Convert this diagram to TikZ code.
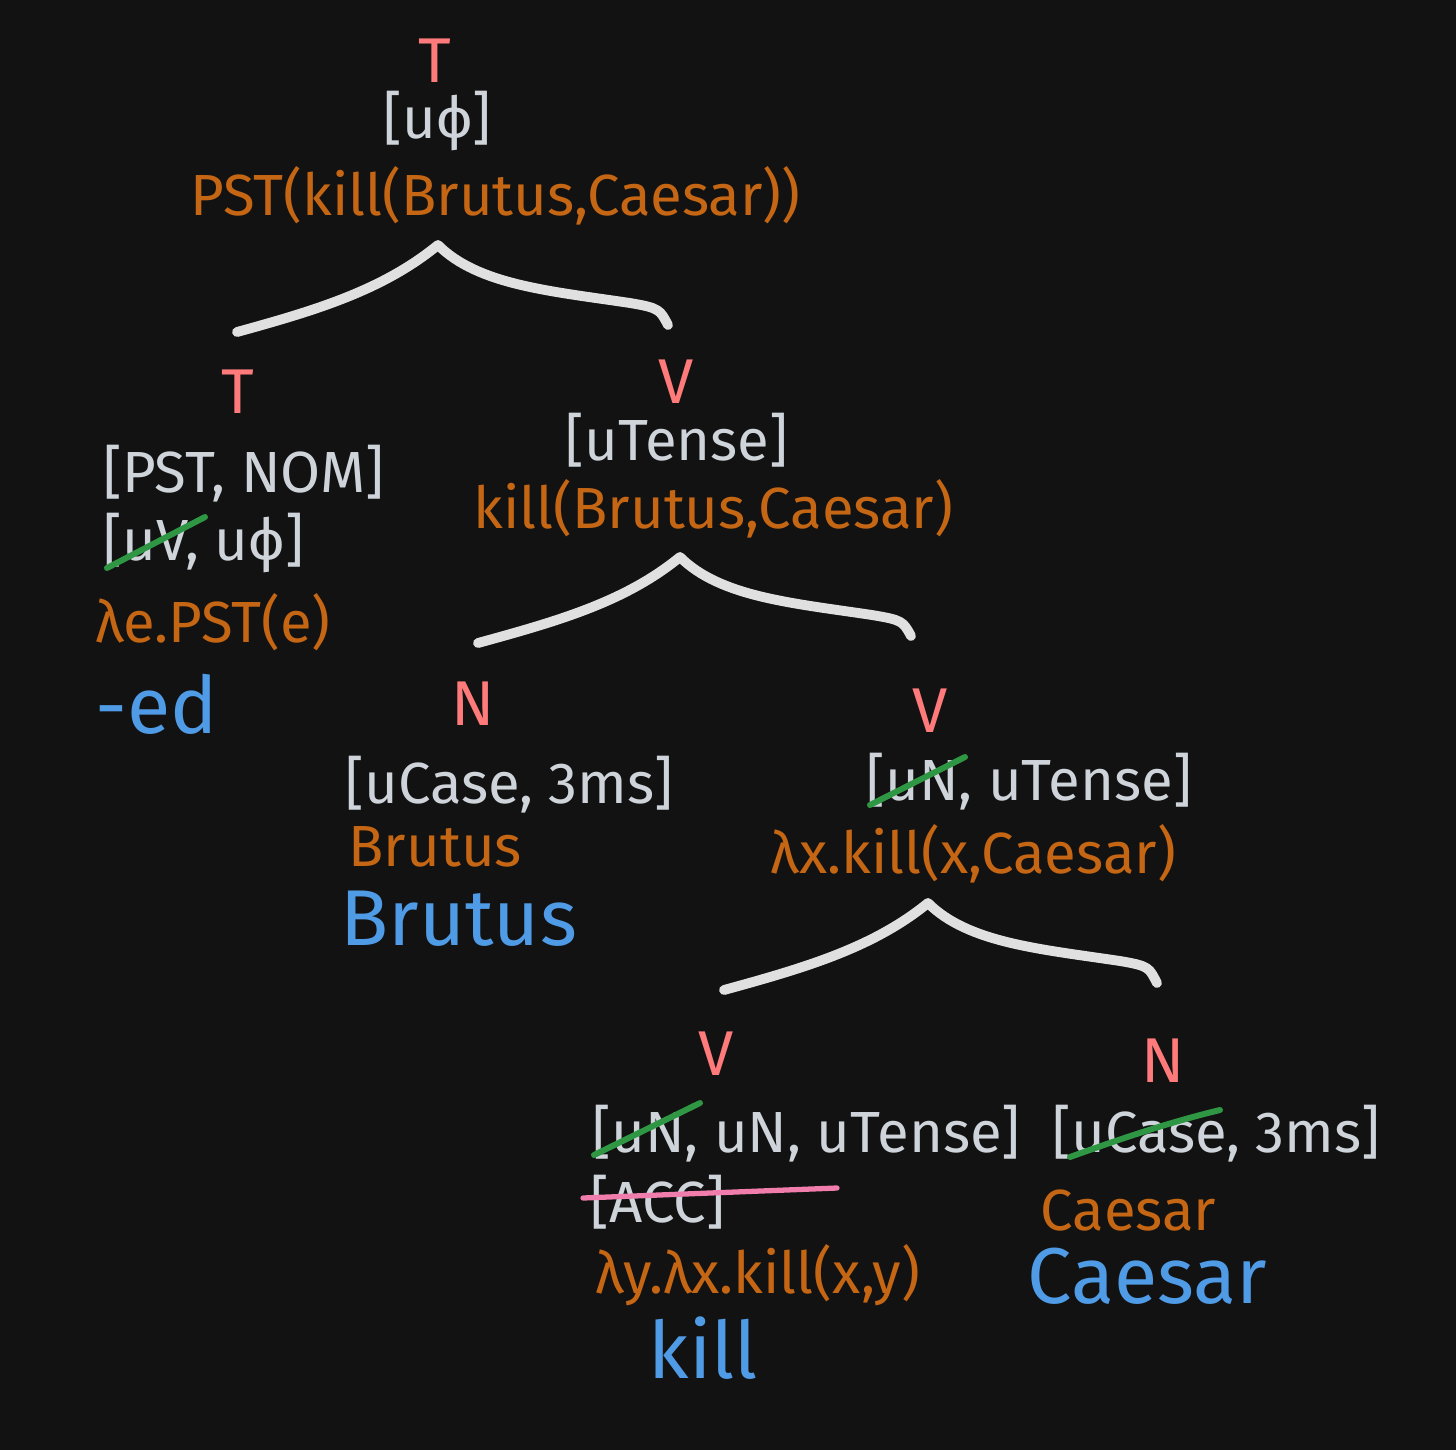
\documentclass[tikz,border=0pt]{standalone}
\usepackage{fontspec}
\setmainfont{Fira Sans}
\usetikzlibrary{calc}
\definecolor{bgdark}{RGB}{18,18,18}
\definecolor{catred}{RGB}{255,122,122}
\definecolor{featgray}{RGB}{206,212,218}
\definecolor{semorange}{RGB}{196,102,20}
\definecolor{wordblue}{RGB}{80,155,230}
\definecolor{checkgreen}{RGB}{47,150,68}
\definecolor{accpink}{RGB}{240,125,172}
\definecolor{branchgray}{RGB}{224,224,224}

\begin{document}
\begin{tikzpicture}[
    x=0.01cm, y=-0.01cm,
    cat/.style={text=catred, inner sep=0pt, anchor=base, font=\fontsize{18}{21}\selectfont},
    feat/.style={text=featgray, inner sep=0pt, anchor=base west, font=\fontsize{16.5}{20}\selectfont},
    sem/.style={text=semorange, inner sep=0pt, anchor=base west, font=\fontsize{16.5}{20}\selectfont},
    word/.style={text=wordblue, inner sep=0pt, anchor=base west, font=\fontsize{22.5}{27}\selectfont},
    branch/.style={draw=branchgray, line width=2.8pt, line cap=round, line join=round},
    checked/.style={draw=checkgreen, line width=1.7pt, line cap=round},
    struck/.style={draw=accpink, line width=1.5pt, line cap=round},
  ]
  \fill[bgdark] (0,0) rectangle (1456,1450);
  \useasboundingbox (0,0) rectangle (1456,1450);

  % root
  \node[cat] (troot) at (435,82) {T};
  \node[feat] (rootfeat) at (383,138) {[uϕ]};
  \node[sem] (rootsem) at (190,215) {PST(kill(Brutus,Caesar))};

  % T head
  \node[cat] (tlab) at (238,413) {T};
  \node[feat] (tfeat) at (103,492) {[PST, NOM]};
  \node[feat] (tfeatb) at (103,560) {[uV, uϕ]};
  \node[sem] (tsem) at (95,642) {λe.PST(e)};
  \node[word] (ted) at (95,733) {-ed};

  % V bar
  \node[cat] (vbar) at (676,403) {V};
  \node[feat] (vbarfeat) at (565,460) {[uTense]};
  \node[sem] (vbarsem) at (473,528) {kill(Brutus,Caesar)};

  % subject
  \node[cat] (nsubj) at (473,725) {N};
  \node[feat] (subjfeat) at (345,803) {[uCase, 3ms]};
  \node[sem] (subjsem) at (348,866) {Brutus};
  \node[word] (subjword) at (340,945) {Brutus};

  % V'
  \node[cat] (vp) at (930,732) {V};
  \node[feat] (vpfeat) at (866,800) {[uN, uTense]};
  \node[sem] (vpsem) at (770,873) {λx.kill(x,Caesar)};

  % V head
  \node[cat] (vhead) at (716,1075) {V};
  \node[feat] (vheadfeat) at (592,1152) {[uN, uN, uTense]};
  \node[feat] (vheadacc) at (590,1222) {[ACC]};
  \node[sem] (vheadsem) at (595,1293) {λy.λx.kill(x,y)};
  \node[word] (vheadword) at (648,1378) {kill};

  % object
  \node[cat] (nobj) at (1163,1082) {N};
  \node[feat] (objfeat) at (1052,1152) {[uCase, 3ms]};
  \node[sem] (objsem) at (1040,1230) {Caesar};
  \node[word] (objword) at (1027,1303) {Caesar};

  % Branches
  \coordinate (b1-l) at (237,332);
  \coordinate (b1-p) at (438,245);
  \coordinate (b1-r) at (668,325);
  \coordinate (b2-l) at (478,643);
  \coordinate (b2-p) at (680,557);
  \coordinate (b2-r) at (911,636);
  \coordinate (b3-l) at (724,990);
  \coordinate (b3-p) at (928,903);
  \coordinate (b3-r) at (1157,983);
  \foreach \b in {b1,b2,b3}
    \draw[branch] (\b-l) .. controls +(80,-22) and +(-55,45) .. (\b-p)
      .. controls +(40,40) and +(-80,-12) .. ($(\b-p)+(192,58)$)
      .. controls +(30,5) and +(-8,-15) .. (\b-r);

  % Checked features
  \draw[checked] ($(tfeatb.base west)+(4,8)$) -- ($(tfeatb.base west)+(102,-43)$);
  \draw[checked] ($(vpfeat.base west)+(4,5)$) -- ($(vpfeat.base west)+(99,-43)$);
  \draw[checked] ($(vheadfeat.base west)+(2,3)$) -- ($(vheadfeat.base west)+(108,-49)$);
  \draw[checked] ($(objfeat.base west)+(18,5)$) .. controls +(50,-18) and +(-50,12) .. ($(objfeat.base west)+(168,-42)$);
  \draw[struck] ($(vheadacc.base west)+(-7,-24)$) -- ($(vheadacc.base west)+(247,-34)$);
\end{tikzpicture}
\end{document}
